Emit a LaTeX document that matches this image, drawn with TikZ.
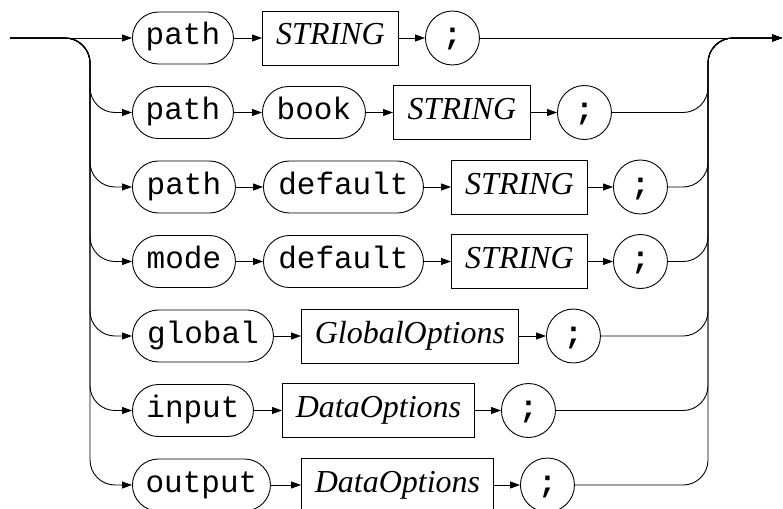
\documentclass[tikz,border=0pt]{standalone}
\usepackage{fontspec}
\setmainfont{Liberation Serif}
\setmonofont{Liberation Mono}
\usetikzlibrary{arrows.meta}
\begin{document}
\begin{tikzpicture}[x=1pt,y=-1pt,
  base/.style={draw, line width=0.9pt, inner sep=0pt, text height=20pt, text depth=6pt, anchor=west},
  term/.style={base, rectangle, rounded corners=26pt, minimum height=52pt, font=\ttfamily\fontsize{31}{37}\selectfont},
  nonterm/.style={base, rectangle, minimum height=54pt, font=\itshape\fontsize{32}{38}\selectfont},
  semi/.style={base, circle, minimum size=54pt, font=\ttfamily\bfseries\fontsize{31}{37}\selectfont},
  link/.style={line width=0.9pt, -{Triangle[length=10pt,width=7pt]}},
  rail/.style={link, rounded corners=25pt}]
\useasboundingbox (0,0) rectangle (783,508);
% rails
\coordinate (in) at (10,38);
\coordinate (L) at (90,38);
\coordinate (R) at (708,38);
\coordinate (out) at (782,38);
% row 1
\node[term, minimum width=101pt] (a1) at (132,38) {path};
\node[nonterm, minimum width=136pt] (b1) at (262,38) {STRING};
\node[semi] (c1) at (425,38) {;};
% row 2
\node[term, minimum width=101pt] (a2) at (132,112.5) {path};
\node[term, minimum width=103pt] (m2) at (262,112.5) {book};
\node[nonterm, minimum width=137pt] (b2) at (393,112.5) {STRING};
\node[semi] (c2) at (557,112.5) {;};
% row 3
\node[term, minimum width=103pt] (a3) at (132,187) {path};
\node[term, minimum width=160pt] (m3) at (263,187) {default};
\node[nonterm, minimum width=136pt] (b3) at (451,187) {STRING};
\node[semi] (c3) at (613,187) {;};
% row 4
\node[term, minimum width=103pt] (a4) at (132,261.5) {mode};
\node[term, minimum width=160pt] (m4) at (263,261.5) {default};
\node[nonterm, minimum width=136pt] (b4) at (451,261.5) {STRING};
\node[semi] (c4) at (613,261.5) {;};
% row 5
\node[term, minimum width=141pt] (a5) at (132,336) {global};
\node[nonterm, minimum width=217pt] (b5) at (301,336) {GlobalOptions};
\node[semi] (c5) at (546,336) {;};
% row 6
\node[term, minimum width=121pt] (a6) at (132,410.5) {input};
\node[nonterm, minimum width=192pt] (b6) at (282,410.5) {DataOptions};
\node[semi] (c6) at (501,410.5) {;};
% row 7
\node[term, minimum width=138pt] (a7) at (132,485) {output};
\node[nonterm, minimum width=192pt] (b7) at (301,485) {DataOptions};
\node[semi] (c7) at (520,485) {;};
% entry
\draw[link] (in) -- (a1.west);
\foreach \k in {2,...,7} { \draw[rail] (in) -- (L) |- (a\k.west); }
% chains
\draw[link] (a1.east) -- (b1.west);
\draw[link] (b1.east) -- (c1.west);
\draw[link] (a2.east) -- (m2.west);
\draw[link] (m2.east) -- (b2.west);
\draw[link] (b2.east) -- (c2.west);
\draw[link] (a3.east) -- (m3.west);
\draw[link] (m3.east) -- (b3.west);
\draw[link] (b3.east) -- (c3.west);
\draw[link] (a4.east) -- (m4.west);
\draw[link] (m4.east) -- (b4.west);
\draw[link] (b4.east) -- (c4.west);
\draw[link] (a5.east) -- (b5.west);
\draw[link] (b5.east) -- (c5.west);
\draw[link] (a6.east) -- (b6.west);
\draw[link] (b6.east) -- (c6.west);
\draw[link] (a7.east) -- (b7.west);
\draw[link] (b7.east) -- (c7.west);
% exit
\draw[link] (c1.east) -- (out);
\foreach \k in {2,...,7} { \draw[rail] (c\k.east) -| (R) -- (out); }
\end{tikzpicture}
\end{document}
